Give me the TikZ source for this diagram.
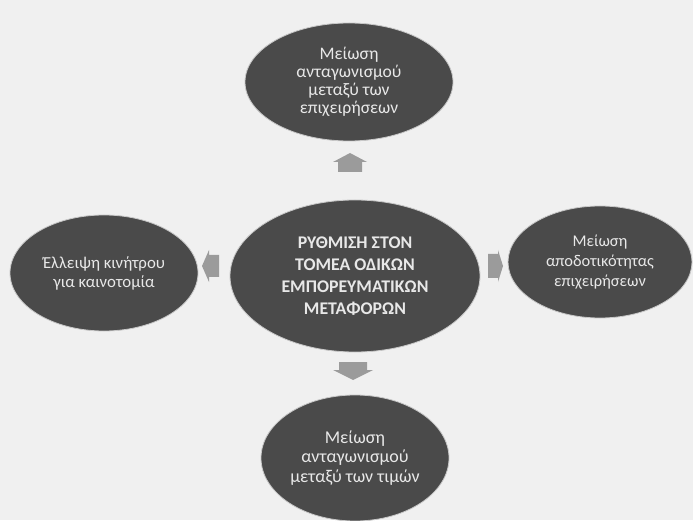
\documentclass[tikz,border=0pt]{standalone}
\usepackage{fontspec}
\setmainfont{Carlito}
\usetikzlibrary{shapes.geometric}
\definecolor{bgc}{RGB}{240,240,240}
\definecolor{ellc}{RGB}{74,74,74}
\definecolor{edgec}{RGB}{200,200,200}
\definecolor{txtc}{RGB}{232,232,232}
\definecolor{arrc}{RGB}{155,155,155}
\tikzset{
  oval/.style={ellipse, fill=ellc, draw=edgec, line width=0.8pt, inner sep=0pt, text=txtc, align=center},
  centertext/.style={font=\bfseries\fontsize{17.8}{22}\selectfont},
  blockarr/.style={fill=arrc, draw=none}
}
\begin{document}
\begin{tikzpicture}[x=1pt,y=1pt]
\useasboundingbox (0,0) rectangle (693,520);
\fill[bgc] (0,0) rectangle (693,520);

\node[oval, centertext, minimum width=250pt, minimum height=152pt] (c) at (355,244)
  {ΡΥΘΜΙΣΗ ΣΤΟΝ\\ΤΟΜΕΑ ΟΔΙΚΩΝ\\ΕΜΠΟΡΕΥΜΑΤΙΚΩΝ\\ΜΕΤΑΦΟΡΩΝ};
\node[oval, font=\fontsize{17.6}{18}\selectfont, minimum width=208pt, minimum height=118pt] (t) at (349,438)
  {Μείωση\\ανταγωνισμού\\μεταξύ των\\επιχειρήσεων};
\node[oval, font=\fontsize{16.8}{19}\selectfont, minimum width=188pt, minimum height=116pt] (l) at (104,247)
  {Έλλειψη κινήτρου\\για καινοτομία};
\node[oval, font=\fontsize{16.4}{20}\selectfont, minimum width=184pt, minimum height=112pt] (r) at (600,258)
  {Μείωση\\αποδοτικότητας\\επιχειρήσεων};
\node[oval, font=\fontsize{18}{19.5}\selectfont, minimum width=188pt, minimum height=126pt] (b) at (355,62)
  {Μείωση\\ανταγωνισμού\\μεταξύ των τιμών};

% block arrows between the centre and the outer ovals
\coordinate (au) at (350,357);
\coordinate (ad) at (353,149);
\coordinate (al) at (211,254);
\coordinate (ar) at (494,254);

\fill[blockarr, shift={(au)}] (-12,-9) -- (12,-9) -- (12,1) -- (17,1) -- (0,10) -- (-17,1) -- (-12,1) -- cycle;
\fill[blockarr, shift={(ad)}] (-14,9) -- (14,9) -- (14,1) -- (20,1) -- (0,-9) -- (-20,1) -- (-14,1) -- cycle;
\fill[blockarr, shift={(al)}] (8,-11) -- (8,11) -- (-2,11) -- (-2,16) -- (-9,0) -- (-2,-16) -- (-2,-11) -- cycle;
\fill[blockarr, shift={(ar)}] (-6,-12) -- (-6,12) -- (4,12) -- (4,16) -- (9,0) -- (4,-16) -- (4,-12) -- cycle;
\end{tikzpicture}
\end{document}
